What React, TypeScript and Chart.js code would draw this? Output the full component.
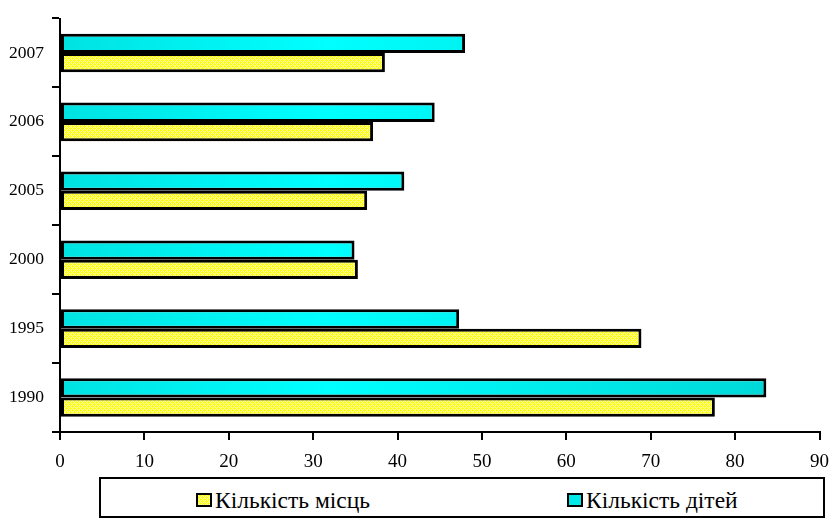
import React, { useEffect, useRef, useMemo } from 'react';
import { Chart, registerables } from 'chart.js';

Chart.register(...registerables);

// ---- data ----
const years = ['2007', '2006', '2005', '2000', '1995', '1990'];
const childrenCount = [48.0, 44.4, 40.8, 34.9, 47.3, 83.7]; // Кількість дітей
const placesCount = [38.5, 37.1, 36.4, 35.3, 68.9, 77.6]; // Кількість місць
const seriesPlaces = 'Кількість місць';
const seriesChildren = 'Кількість дітей';
const xMin = 0;
const xMax = 90;
const xStep = 10;

const FONT = "'Liberation Serif', 'Times New Roman', 'DejaVu Serif', serif";

function makeTile(): HTMLCanvasElement {
  const c = document.createElement('canvas');
  c.width = 4;
  c.height = 4;
  const g = c.getContext('2d')!;
  g.fillStyle = '#FFFF00';
  g.fillRect(0, 0, 4, 4);
  g.fillStyle = '#FFFFD0';
  for (let x = 0; x < 4; x++) {
    for (let y = 0; y < 4; y++) {
      if ((x + y) % 4 === 0 || (((x - y) % 4) + 4) % 4 === 0) g.fillRect(x, y, 1, 1);
    }
  }
  return c;
}

export default function App() {
  const ref = useRef<HTMLCanvasElement | null>(null);
  const tileUrl = useMemo(() => makeTile().toDataURL(), []);

  useEffect(() => {
    const canvas = ref.current;
    if (!canvas) return;
    const ctx = canvas.getContext('2d')!;
    const pattern = ctx.createPattern(makeTile(), 'repeat')!;

    const cyanFill = (c: any) => {
      const chart = c.chart;
      const area = chart.chartArea;
      if (!area) return '#00FFFF';
      const g = chart.ctx.createLinearGradient(area.left, 0, area.right, 0);
      g.addColorStop(0, '#00E2E2');
      g.addColorStop(0.35, '#00FFFF');
      g.addColorStop(1, '#00D4D4');
      return g;
    };

    const common = {
      borderColor: '#000',
      borderWidth: 3,
      borderSkipped: false,
      categoryPercentage: 0.56,
      barPercentage: 1.0,
    };

    const chart = new Chart(canvas, {
      type: 'bar',
      data: {
        labels: years,
        datasets: [
          { label: seriesChildren, data: childrenCount, backgroundColor: cyanFill, ...common },
          { label: seriesPlaces, data: placesCount, backgroundColor: pattern, ...common },
        ],
      },
      options: {
        indexAxis: 'y',
        responsive: false,
        animation: false,
        devicePixelRatio: 1,
        layout: { padding: { left: 0, right: 16, top: 14, bottom: 48 } },
        plugins: {
          legend: { display: false },
          tooltip: { enabled: false },
          title: { display: false },
        },
        scales: {
          x: {
            type: 'linear',
            min: xMin,
            max: xMax,
            ticks: {
              stepSize: xStep,
              color: '#000',
              font: { family: FONT, size: 19 },
              padding: 11,
              maxRotation: 0,
            },
            grid: {
              drawOnChartArea: false,
              drawTicks: true,
              tickLength: 8,
              color: '#000',
              lineWidth: 2,
            },
            border: { display: true, color: '#000', width: 2 },
            afterFit: (s: any) => {
              s.height = 40;
            },
          },
          y: {
            type: 'category',
            offset: true,
            ticks: {
              color: '#000',
              font: { family: FONT, size: 17.5 },
              padding: 8,
            },
            grid: {
              offset: true,
              drawOnChartArea: false,
              drawTicks: true,
              tickLength: 8,
              color: '#000',
              lineWidth: 2,
            },
            border: { display: true, color: '#000', width: 2 },
            afterFit: (s: any) => {
              s.width = 60;
            },
          },
        },
      },
    } as any);

    return () => chart.destroy();
  }, []);

  const markerBase: React.CSSProperties = {
    display: 'inline-block',
    width: 12,
    height: 10,
    border: '2.5px solid #000',
    marginRight: 3,
    verticalAlign: 'middle',
  };

  return (
    <div style={{ position: 'absolute', left: 0, top: 0, width: 840, height: 520, background: '#fff' }}>
      <canvas ref={ref} width={840} height={520} style={{ display: 'block', width: 840, height: 520 }} />
      <div
        style={{
          position: 'absolute',
          left: 99,
          top: 477,
          width: 722,
          height: 37,
          border: '2px solid #000',
          background: '#fff',
          fontFamily: FONT,
          fontSize: 23.5,
          color: '#000',
        }}
      >
        <div style={{ position: 'absolute', left: 95, top: 3, whiteSpace: 'nowrap', lineHeight: '30px' }}>
          <span style={{ ...markerBase, backgroundImage: `url(${tileUrl})` }} />
          <span style={{ verticalAlign: 'middle' }}>{seriesPlaces}</span>
        </div>
        <div style={{ position: 'absolute', left: 466, top: 3, whiteSpace: 'nowrap', lineHeight: '30px' }}>
          <span style={{ ...markerBase, background: '#00E8E8' }} />
          <span style={{ verticalAlign: 'middle' }}>{seriesChildren}</span>
        </div>
      </div>
    </div>
  );
}
